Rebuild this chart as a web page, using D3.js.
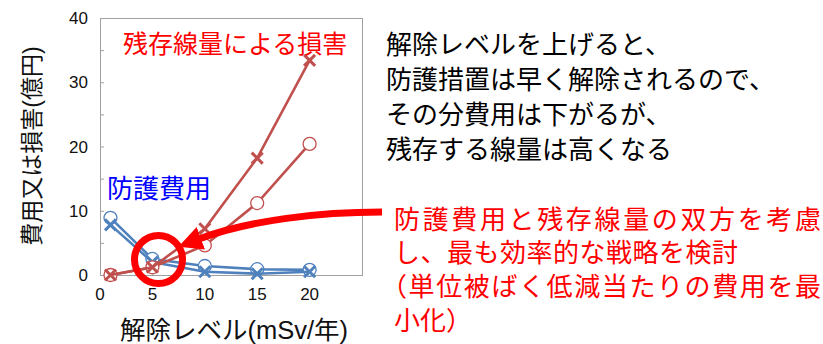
<!DOCTYPE html>
<html>
<head>
<meta charset="utf-8">
<script src="https://cdn.jsdelivr.net/npm/d3@7"></script>
<style>
  html, body { margin: 0; padding: 0; background: #fff; }
  svg { display: block; }
  text { font-family: "Liberation Sans", "Noto Sans CJK JP", sans-serif; }
</style>
</head>
<body>
<svg id="chart" width="823" height="344"></svg>
<script>
// 解除レベル (mSv/年)
const levels = [1, 5, 10, 15, 20];
// 防護費用 (億円)
const costCircle = [8.9, 2.5, 1.4, 0.9, 0.8];
const costCross  = [7.8, 2.0, 0.5, 0.2, 0.5];
// 残存線量による損害 (億円)
const damageCircle = [0, 1.2, 4.6, 11.2, 20.4];
const damageCross  = [0, 1.2, 7.2, 18.2, 33.4];

const xTicks = [0, 5, 10, 15, 20];
const yTicks = [0, 10, 20, 30, 40];
const minorTicks = [0, 5, 10, 15, 20, 25, 30, 35, 40];

const noteLines = ["解除レベルを上げると、", "防護措置は早く解除されるので、", "その分費用は下がるが、", "残存する線量は高くなる"];
const redLines = ["防護費用と残存線量の双方を考慮", "し、最も効率的な戦略を検討", "（単位被ばく低減当たりの費用を最", "小化）"];

const svg = d3.select("#chart");
const x = d3.scaleLinear().domain([0, 25]).range([100, 362]);
const y = d3.scaleLinear().domain([0, 40]).range([275, 18]);

const BLUE = "#4f81bd", RED = "#c0504d", FRAME = "#a0a0a0";

// frame
svg.append("rect")
  .attr("x", x(0)).attr("y", y(40))
  .attr("width", x(25) - x(0)).attr("height", y(0) - y(40))
  .attr("fill", "none").attr("stroke", FRAME).attr("stroke-width", 1)
  .attr("shape-rendering", "crispEdges");

// inward ticks
const yAxis = d3.axisRight(y).tickValues(minorTicks).tickSize(4).tickFormat("");
svg.append("g").attr("transform", `translate(${x(0)},0)`).call(yAxis)
  .call(g => g.select(".domain").remove())
  .call(g => g.selectAll("line").attr("stroke", FRAME));
const xAxis = d3.axisTop(x).tickValues([5, 10, 15, 20]).tickSize(4).tickFormat("");
svg.append("g").attr("transform", `translate(0,${y(0)})`).call(xAxis)
  .call(g => g.select(".domain").remove())
  .call(g => g.selectAll("line").attr("stroke", FRAME));

// tick labels
svg.append("g").selectAll("text").data(yTicks).join("text")
  .attr("x", 88).attr("y", d => y(d) + 6)
  .attr("text-anchor", "end").attr("font-size", 17).attr("fill", "#111")
  .text(d => d);
svg.append("g").selectAll("text").data(xTicks).join("text")
  .attr("x", d => x(d)).attr("y", 300)
  .attr("text-anchor", "middle").attr("font-size", 17).attr("fill", "#111")
  .text(d => d);

// axis titles
svg.append("text")
  .attr("transform", "translate(40,146) rotate(-90)")
  .attr("text-anchor", "middle").attr("font-size", 23).attr("fill", "#111")
  .text("費用又は損害(億円)");
svg.append("text")
  .attr("x", 234).attr("y", 339)
  .attr("text-anchor", "middle").attr("font-size", 25.5).attr("fill", "#111")
  .text("解除レベル(mSv/年)");

// series
const line = d3.line().x(d => x(d[0])).y(d => y(d[1]));
const series = [
  { values: costCircle, color: BLUE, marker: "circle" },
  { values: costCross, color: BLUE, marker: "cross" },
  { values: damageCircle, color: RED, marker: "circle" },
  { values: damageCross, color: RED, marker: "cross" }
];
series.forEach(s => {
  const pts = levels.map((lv, i) => [lv, s.values[i]]);
  svg.append("path").datum(pts)
    .attr("d", line).attr("fill", "none")
    .attr("stroke", s.color).attr("stroke-width", 2.6);
  const g = svg.append("g");
  if (s.marker === "circle") {
    g.selectAll("circle").data(pts).join("circle")
      .attr("cx", d => x(d[0])).attr("cy", d => y(d[1])).attr("r", 6.5)
      .attr("fill", "#fff").attr("stroke", s.color).attr("stroke-width", 1.3);
  } else {
    const h = 5.5;
    g.selectAll("path").data(pts).join("path")
      .attr("d", d => {
        const cx = x(d[0]), cy = y(d[1]);
        return `M${cx - h},${cy - h}L${cx + h},${cy + h}M${cx - h},${cy + h}L${cx + h},${cy - h}`;
      })
      .attr("stroke", s.color).attr("stroke-width", 3).attr("fill", "none");
  }
});

// series labels
svg.append("text").attr("x", 123).attr("y", 53)
  .attr("font-size", 25).attr("fill", "#ff0000").text("残存線量による損害");
svg.append("text").attr("x", 107).attr("y", 198)
  .attr("font-size", 26).attr("fill", "#0000ff").text("防護費用");

// optimum highlight and arrow
svg.append("circle").attr("cx", 158.5).attr("cy", 259.5).attr("r", 24)
  .attr("fill", "none").attr("stroke", "#ff0000").attr("stroke-width", 7);
svg.append("defs").append("marker")
  .attr("id", "head").attr("markerUnits", "userSpaceOnUse")
  .attr("viewBox", "0 0 24 24").attr("refX", 2).attr("refY", 12)
  .attr("markerWidth", 24).attr("markerHeight", 24).attr("orient", "auto")
  .append("path").attr("d", "M0,0L24,12L0,24Z").attr("fill", "#ff0000");
svg.append("path")
  .attr("d", "M382,212 C320,212 250,220 199,239")
  .attr("fill", "none").attr("stroke", "#ff0000").attr("stroke-width", 7)
  .attr("marker-end", "url(#head)");

// explanatory notes
svg.append("g").selectAll("text").data(noteLines).join("text")
  .attr("x", 386).attr("y", (d, i) => 53.5 + i * 35)
  .attr("font-size", 26).attr("fill", "#000").text(d => d);
const redWidths = [427, 344, 440, 66];
svg.append("g").selectAll("text").data(redLines).join("text")
  .attr("x", (d, i) => i === 2 ? 381 : 394)
  .attr("y", (d, i) => 228.5 + i * 33.8)
  .attr("font-size", 26).attr("fill", "#ff0000")
  .attr("textLength", (d, i) => i === 3 ? null : redWidths[i])
  .attr("lengthAdjust", "spacing")
  .text(d => d);
</script>
</body>
</html>
